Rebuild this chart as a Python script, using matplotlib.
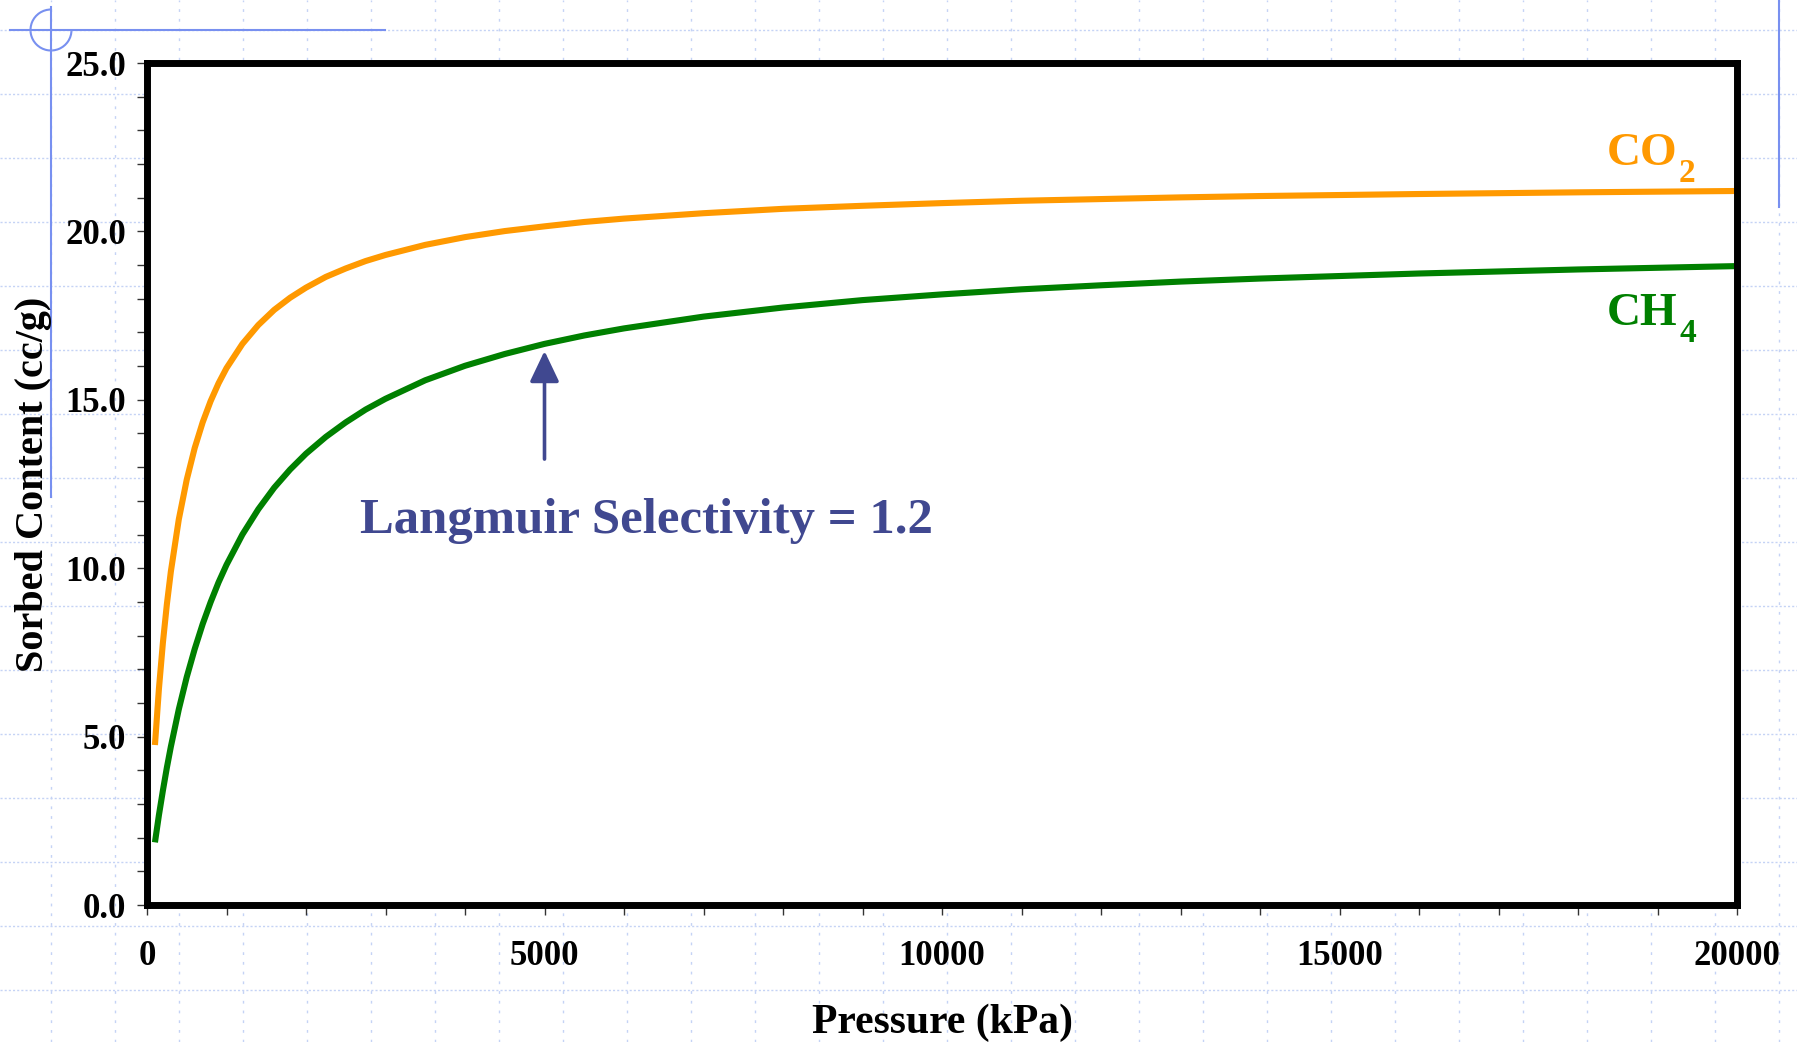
import matplotlib
matplotlib.use("Agg")
import matplotlib.pyplot as plt
from matplotlib.lines import Line2D
from matplotlib.patches import Arc
from matplotlib.ticker import MultipleLocator, FormatStrFormatter

plt.rcParams['font.family'] = ['Liberation Serif', 'DejaVu Serif']
plt.rcParams['font.weight'] = 'bold'

# values
pressure = [100, 150, 200, 250, 300, 400, 500, 600, 700, 800, 900, 1000,
            1200, 1400, 1600, 1800, 2000, 2250, 2500, 2750, 3000, 3500, 4000,
            4500, 5000, 5500, 6000, 7000, 8000, 9000, 10000, 11000, 12000,
            13000, 14000, 16000, 18000, 20000]
co2 = [4.75, 6.42, 7.79, 8.93, 9.90, 11.45, 12.63, 13.57, 14.33, 14.96,
       15.49, 15.94, 16.66, 17.22, 17.67, 18.03, 18.33, 18.65, 18.90, 19.12,
       19.30, 19.60, 19.83, 20.01, 20.15, 20.28, 20.38, 20.54, 20.67, 20.76,
       20.84, 20.91, 20.96, 21.01, 21.05, 21.11, 21.16, 21.20]
ch4 = [1.86, 2.67, 3.40, 4.08, 4.70, 5.81, 6.77, 7.60, 8.34, 8.99, 9.58,
       10.10, 11.00, 11.75, 12.39, 12.93, 13.40, 13.90, 14.33, 14.71, 15.03,
       15.58, 16.01, 16.36, 16.66, 16.91, 17.12, 17.47, 17.74, 17.96, 18.13,
       18.28, 18.40, 18.51, 18.60, 18.75, 18.87, 18.97]
arrow_p = 5000
arrow_from, arrow_to = 13.24, 16.45
note = "Langmuir Selectivity = 1.2"

W, H = 1797, 1042
orange = "#ff9900"
green = "#008000"
navy = "#404890"
deco = "#7890f0"
dots = "#c5d3f5"

fig = plt.figure(figsize=(W / 100, H / 100), dpi=100)
fig.patch.set_facecolor("white")

# slide background: dotted grid + blue crosshair decoration (pixel coords)
bg = fig.add_axes([0, 0, 1, 1], zorder=0)
bg.set_xlim(0, W)
bg.set_ylim(0, H)
bg.axis("off")
for k in range(-1, 28):
    x = 115 + 64 * k
    bg.add_line(Line2D([x, x], [0, H], color=dots, lw=1.0, ls=(0, (2, 5))))
for k in range(0, 17):
    y = H - (30 + 64 * k)
    bg.add_line(Line2D([0, W], [y, y], color=dots, lw=1.0, ls=(0, (1.5, 1.5))))
bg.plot([10, 385], [H - 30, H - 30], color=deco, lw=1.5)
bg.plot([51, 51], [H - 7, H - 497], color=deco, lw=1.5)
bg.plot([1779, 1779], [H, H - 207], color=deco, lw=1.5)
bg.add_patch(Arc((51, H - 30), 41, 41, theta1=90, theta2=360, color=deco, lw=1.5))

ax = fig.add_axes([147 / W, (H - 905) / H, 1590 / W, 842 / H], zorder=1)
ax.set_facecolor("white")
ax.plot(pressure, co2, color=orange, lw=4.4, solid_capstyle="butt",
        solid_joinstyle="round")
ax.plot(pressure, ch4, color=green, lw=4.4, solid_capstyle="butt",
        solid_joinstyle="round")
ax.set_xlim(0, 20000)
ax.set_ylim(0, 25)

for s in ax.spines.values():
    s.set_linewidth(5)
    s.set_color("black")

ax.xaxis.set_major_locator(MultipleLocator(5000))
ax.xaxis.set_minor_locator(MultipleLocator(1000))
ax.yaxis.set_major_locator(MultipleLocator(5))
ax.yaxis.set_minor_locator(MultipleLocator(1))
ax.yaxis.set_major_formatter(FormatStrFormatter("%.1f"))
ax.tick_params(which="both", direction="out", length=7, width=1, color="#333333")
ax.tick_params(axis="x", which="major", pad=18, labelsize=25)
ax.tick_params(axis="y", which="major", pad=8, labelsize=25)

ax.set_xlabel("Pressure (kPa)", fontsize=30, fontweight="bold")
ax.xaxis.label.set_va("baseline")
ax.xaxis.set_label_coords(0.5, -(1033 - 905) / 842)
ax.set_ylabel("Sorbed Content (cc/g)", fontsize=29, fontweight="bold")
ax.yaxis.label.set_va("baseline")
ax.yaxis.set_label_coords((43 - 147) / 1590, 0.5)

ax.annotate("", xy=(arrow_p, arrow_to), xytext=(arrow_p, arrow_from),
            arrowprops=dict(arrowstyle="-|>,head_length=1.05,head_width=0.5",
                            mutation_scale=18, color=navy, lw=2.6,
                            shrinkA=0, shrinkB=0))
ax.text(2680, 11.05, note, color=navy, fontsize=36.5, fontweight="bold",
        ha="left", va="baseline")

co = ax.text(18365, 21.97, "CO", color=orange, fontsize=34, fontweight="bold",
             ha="left", va="baseline")
ax.annotate("2", xy=(1, 0), xycoords=co, xytext=(1, -5),
            textcoords="offset points", color=orange, fontsize=24,
            fontweight="bold", ha="left", va="baseline")
ch = ax.text(18365, 17.22, "CH", color=green, fontsize=34, fontweight="bold",
             ha="left", va="baseline")
ax.annotate("4", xy=(1, 0), xycoords=ch, xytext=(1, -5),
            textcoords="offset points", color=green, fontsize=24,
            fontweight="bold", ha="left", va="baseline")

fig.savefig("out.png", dpi=100, facecolor="white")
